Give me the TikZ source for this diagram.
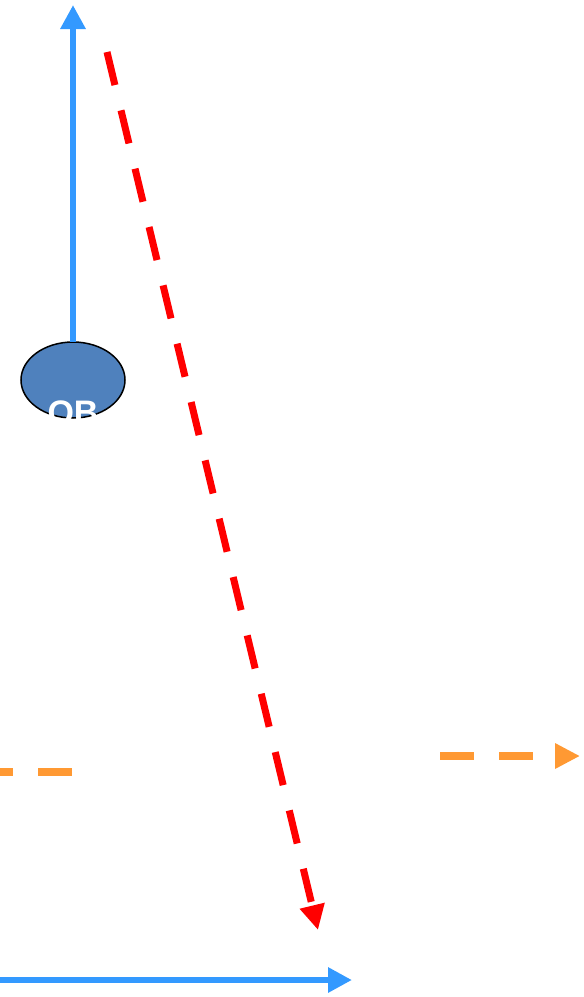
\documentclass[tikz,border=0pt]{standalone}
\usepackage{fontspec}
\setmainfont{Liberation Sans}
\usetikzlibrary{arrows.meta,shapes.geometric}
\definecolor{routeblue}{RGB}{51,153,255}
\definecolor{routered}{RGB}{255,0,0}
\definecolor{routeorange}{RGB}{255,153,51}
\definecolor{qbfill}{RGB}{79,129,189}

\begin{document}
\begin{tikzpicture}[x=1pt,y=-1pt,
    blueroute/.style={routeblue, line width=6pt, -{Triangle[length=24pt,width=24pt]}},
    redroute/.style={routered, line width=7pt, dash pattern=on 34pt off 26pt, -{Triangle[length=25pt,width=24pt]}},
    orangeroute/.style={routeorange, line width=8pt, dash pattern=on 34pt off 25pt},
    player/.style={ellipse, draw=black, line width=1.5pt, fill=qbfill, minimum width=104pt, minimum height=76pt, inner sep=0pt, outer sep=0pt}]
  \useasboundingbox (0,0) rectangle (584,997);
  % quarterback, its label cut off at the bottom
  \node[player] (qb) at (73,380) {};
  \begin{scope}
    \clip (20,340) rectangle (126,418);
    \node[anchor=base, text=white, font=\fontsize{34}{34}\selectfont\bfseries, inner sep=0pt] (qblabel) at (73,424) {QB};
  \end{scope}
  % end points
  \coordinate (blueTop) at (73,5);
  \coordinate (redStart) at (107,52);
  \coordinate (redEnd) at (318,930);
  \coordinate (blueLeft) at (0,980);
  \coordinate (blueRight) at (352,980);
  \coordinate (orangeLeftA) at (0,772);
  \coordinate (orangeLeftB) at (73,772);
  \coordinate (orangeRightA) at (440,756);
  \coordinate (orangeRightB) at (580,756);
  % routes
  \draw[blueroute] (qb.north) -- (blueTop);
  \draw[redroute] (redStart) -- (redEnd);
  \draw[blueroute] (blueLeft) -- (blueRight);
  \draw[orangeroute, dash phase=21pt] (orangeLeftA) -- (orangeLeftB);
  \draw[orangeroute, -{Triangle[length=25pt,width=24pt]}] (orangeRightA) -- (orangeRightB);
\end{tikzpicture}
\end{document}
